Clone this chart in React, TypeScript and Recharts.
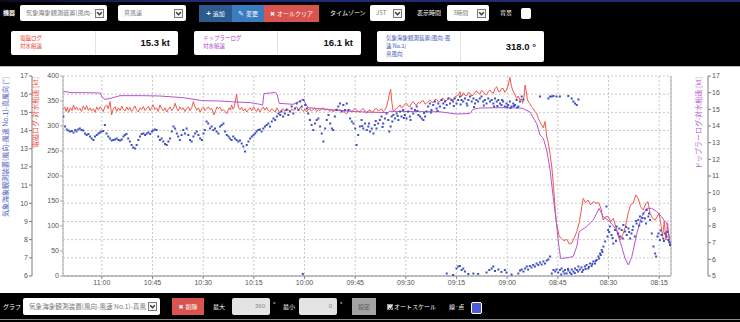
import React from 'react';
import { ComposedChart, Line, Scatter, XAxis, YAxis, CartesianGrid } from 'recharts';

// minutes after 08:00
const xTicks = [15, 30, 45, 60, 75, 90, 105, 120, 135, 150, 165, 180];
const redTicks = [6, 7, 8, 9, 10, 11, 12, 13, 14, 15, 16, 17];
const blueTicks = [0, 50, 100, 150, 200, 250, 300, 350, 400];
const purpleTicks = [5, 6, 7, 8, 9, 10, 11, 12, 13, 14, 15, 16, 17];

// 電磁ログ 対水船速 [kt]  [minute, value]
const redPoints: number[][] = [
  [191.5,15.17],[191.0,15.3],[190.6,15.05],[190.2,15.28],[189.8,15.0],[189.3,15.25],[188.8,15.1],[188.4,15.41],[187.9,15.15],[187.5,15.3],
  [187.0,15.12],[186.5,15.22],[186.0,15.05],[185.5,15.35],[185.0,15.15],[184.5,15.36],[184.0,15.1],[183.5,15.25],[183.0,15.08],[182.5,15.2],
  [182.0,15.0],[181.5,15.3],[181.0,15.12],[180.5,15.31],[180.0,15.15],[179.6,15.05],[179.1,15.3],[178.6,15.41],[178.1,15.2],[177.6,15.59],
  [177.1,14.86],[176.6,15.2],[176.1,15.31],[175.6,15.05],[175.1,15.25],[174.6,15.1],[174.1,15.35],[173.6,15.15],[173.1,15.08],[172.6,15.3],
  [172.2,15.12],[171.7,15.28],[171.2,15.05],[170.7,15.2],[170.2,15.35],[169.7,15.12],[169.2,15.02],[168.7,15.25],[168.2,15.15],[167.7,15.32],
  [167.2,15.1],[166.7,15.22],[166.2,15.33],[165.7,15.1],[165.2,15.28],[164.8,15.41],[164.3,15.15],[163.8,15.25],[163.3,15.05],[162.8,15.41],
  [162.3,15.2],[161.8,15.08],[161.3,15.25],[160.8,15.02],[160.3,15.18],[159.8,15.3],[159.3,15.1],[158.8,15.22],[158.3,15.5],[157.8,15.2],
  [157.4,15.08],[156.9,15.3],[156.4,15.15],[155.9,15.25],[155.4,15.05],[154.9,15.2],[154.4,15.3],[153.9,15.1],[153.4,15.25],[152.9,15.59],
  [152.4,15.3],[151.9,15.12],[151.4,15.25],[150.9,15.02],[150.4,15.2],[149.9,15.3],[149.5,15.1],[149.0,15.18],[148.5,15.3],[148.0,15.15],
  [147.5,15.22],[147.0,15.0],[146.8,14.86],[146.3,15.1],[145.9,15.3],[145.5,15.2],[145.0,15.28],[144.5,15.08],[144.0,15.15],[143.5,15.05],
  [143.0,14.92],[142.6,15.15],[142.3,15.25],[141.9,15.12],[141.6,15.41],[141.2,15.18],[140.9,15.25],[140.5,15.6],[140.1,16.01],[139.8,15.5],
  [139.5,15.25],[139.1,15.15],[138.6,15.28],[138.1,15.08],[137.6,15.2],[137.1,15.02],[136.6,15.15],[136.1,15.25],[135.6,15.1],[135.1,15.31],
  [134.6,15.15],[134.2,15.05],[133.7,15.22],[133.2,15.02],[132.7,15.18],[132.2,15.3],[131.7,15.12],[131.2,15.28],[130.7,15.1],[130.2,15.05],
  [129.7,15.2],[129.2,15.12],[128.7,15.02],[128.2,15.25],[127.7,15.1],[127.3,14.95],[126.8,15.15],[126.3,15.2],[125.8,15.05],[125.3,15.22],
  [124.8,15.15],[124.3,15.02],[123.8,15.18],[123.3,15.1],[122.8,15.22],[122.3,15.3],[121.8,15.12],[121.3,15.28],[120.8,15.15],[120.3,15.05],
  [119.9,15.2],[119.4,15.02],[118.9,15.15],[118.4,15.2],[117.9,15.08],[117.4,15.17],[116.9,15.25],[116.4,15.05],[115.9,15.15],[115.4,15.1],
  [114.9,15.22],[114.4,15.25],[113.9,15.1],[113.4,15.2],[112.9,15.12],[112.4,15.05],[111.9,15.18],[111.5,15.02],[111.0,15.15],[110.5,15.2],
  [110.0,15.08],[109.5,15.17],[109.0,15.05],[108.5,15.12],[108.0,14.98],[107.5,14.92],[107.0,15.1],[106.5,15.15],[106.0,15.05],[105.5,15.13],
  [105.0,15.22],[104.5,15.1],[104.0,15.05],[103.6,15.04],[103.1,15.15],[102.6,15.22],[102.1,15.05],[101.6,14.95],[101.1,15.1],[100.6,15.13],
  [100.1,15.0],[99.6,15.04],[99.2,15.18],[98.7,15.22],[98.2,15.08],[97.7,15.13],[97.2,15.2],[96.7,15.04],[96.2,15.15],[95.7,15.31],
  [94.9,15.96],[94.5,16.27],[94.1,15.5],[93.7,15.04],[93.2,15.15],[92.7,15.22],[92.2,15.3],[91.7,15.41],[91.3,15.25],[90.8,15.31],
  [90.3,15.45],[89.8,15.5],[89.3,15.35],[88.8,15.31],[88.3,15.5],[87.8,15.59],[87.3,15.45],[86.8,15.41],[86.3,15.55],[85.8,15.5],
  [85.3,15.62],[84.8,15.64],[84.3,15.45],[83.9,15.5],[83.4,15.6],[82.9,15.68],[82.4,15.58],[81.9,15.53],[81.4,15.7],[80.9,15.72],
  [80.4,15.6],[79.9,15.59],[79.4,15.75],[78.9,15.77],[78.4,15.65],[77.9,15.64],[77.4,15.8],[76.9,15.77],[76.5,15.7],[76.0,15.68],
  [75.5,15.85],[75.0,15.9],[74.5,15.95],[74.0,16.14],[73.5,15.86],[73.0,16.08],[72.5,15.95],[72.0,15.9],[71.5,16.1],[71.0,16.05],
  [70.5,15.9],[70.0,15.96],[69.5,16.1],[69.1,16.19],[68.6,16.05],[68.1,16.01],[67.6,16.2],[67.1,16.14],[66.6,16.0],[66.1,15.96],
  [65.6,16.15],[65.1,16.23],[64.6,16.1],[64.1,16.05],[63.6,16.3],[63.1,16.41],[62.6,16.15],[62.1,16.14],[61.7,16.3],[61.2,16.32],
  [60.7,16.1],[60.2,16.23],[59.7,16.5],[59.2,16.93],[58.8,16.5],[58.4,16.23],[57.7,15.96],[57.2,15.77],[56.7,15.9],[56.2,15.68],
  [55.8,15.75],[55.4,15.5],[55.0,15.9],[54.7,16.5],[54.4,16.2],[54.0,15.68],[53.4,15.5],[52.8,15.31],[52.3,15.22],[51.8,15.04],
  [51.3,14.95],[50.8,14.67],[50.3,14.49],[49.8,14.31],[49.3,14.15],[48.8,14.5],[48.3,13.7],[47.8,13.3],[47.3,12.7],[46.8,12.0],
  [46.3,11.0],[45.8,9.7],[45.4,8.9],[44.6,8.17],[43.9,8.07],[43.2,7.94],[42.4,8.02],[41.6,7.76],[40.9,7.8],[40.2,8.07],
  [39.4,8.44],[38.6,8.99],[37.9,9.81],[37.5,10.27],[36.8,10.03],[36.0,10.18],[35.3,9.91],[34.5,10.09],[33.7,10.0],[32.9,10.03],
  [32.1,9.63],[31.6,9.08],[30.9,9.26],[30.1,9.26],[29.4,8.99],[28.6,9.17],[27.8,8.71],[27.1,8.17],[26.6,7.98],[25.8,8.26],
  [25.0,8.71],[24.2,9.45],[23.5,9.91],[22.7,10.0],[21.9,10.46],[21.2,10.27],[20.5,9.81],[19.7,9.63],[18.9,10.0],[18.3,10.09],
  [17.7,9.45],[16.9,9.17],[16.2,9.08],[15.6,9.26],[15.0,9.45],[14.4,8.71],[14.0,8.17],[13.5,8.99],[13.0,7.98],[12.5,8.9],
  [12.0,7.8],[11.6,7.61],
];

// ドップラーログ 対水船速 [kt]
const purplePoints: number[][] = [
  [191.5,16.06],[190.3,16.05],[189.4,16.0],[185.0,16.0],[180.5,15.98],[179.8,15.7],[179.1,15.6],[177.6,15.65],[174.6,15.82],[168.0,15.82],
  [162.8,15.8],[156.0,15.7],[150.1,15.52],[145.0,15.5],[141.2,15.45],[136.0,15.4],[133.2,15.3],[132.4,15.25],[132.0,15.95],[130.0,15.98],
  [128.7,16.02],[128.1,15.9],[127.5,15.36],[123.4,15.3],[121.3,15.5],[120.5,15.62],[119.6,15.3],[118.9,15.1],[113.4,15.0],[108.0,14.9],
  [103.6,14.85],[95.3,14.8],[94.8,14.88],[79.9,14.85],[74.9,14.72],[71.0,14.75],[70.1,15.0],[68.1,15.08],[62.2,15.1],[56.2,15.08],
  [55.4,15.05],[53.3,14.85],[51.3,14.16],[50.3,13.46],[49.3,13.26],[48.3,12.56],[47.3,11.36],[46.4,9.76],[45.4,8.16],[44.9,7.16],
  [44.2,6.06],[43.4,6.06],[40.5,6.16],[39.4,6.76],[38.7,7.66],[36.5,7.96],[34.5,8.36],[32.8,9.06],[31.6,8.56],[29.6,8.26],
  [27.6,7.76],[26.1,6.76],[25.1,6.06],[24.1,5.66],[23.1,6.16],[21.6,7.56],[20.2,8.56],[18.7,9.06],[17.2,9.06],[15.7,8.86],
  [14.3,8.56],[13.3,8.26],[12.8,8.2],[11.8,7.16],
];

// 気象海象観測装置(風向-風速 No.1) 真風向 [°]
const bluePoints: number[][] = [
  [191.4,319],[190.9,299],[190.4,293],[189.9,291],[189.4,289],[188.9,290],[188.4,287],[187.9,292],[187.5,289],[187.0,293],
  [186.5,295],[186.0,292],[185.5,291],[185.0,285],[184.5,282],[184.0,284],[183.5,279],[183.0,275],[182.5,272],[182.0,279],
  [181.5,282],[181.0,285],[180.6,287],[180.1,289],[179.6,290],[179.1,302],[178.6,285],[178.1,279],[177.6,275],[177.1,271],
  [176.6,272],[176.1,273],[175.6,275],[175.1,272],[174.6,271],[174.1,273],[173.6,279],[173.2,282],[172.7,284],[172.2,275],
  [171.7,269],[171.2,262],[170.7,257],[170.2,255],[169.7,262],[169.2,272],[168.7,279],[168.2,284],[167.7,285],[167.2,282],
  [166.7,285],[166.2,287],[165.7,284],[165.2,289],[164.8,291],[164.3,293],[163.8,292],[163.3,279],[162.8,272],[162.3,275],
  [161.8,269],[161.3,264],[160.8,262],[160.3,269],[159.8,275],[159.3,289],[158.8,299],[158.3,295],[157.8,285],[157.4,279],
  [156.9,272],[156.4,282],[155.9,292],[155.4,285],[154.9,295],[154.4,282],[153.9,272],[153.4,269],[152.9,279],[152.4,285],
  [151.9,289],[151.4,282],[150.9,275],[150.4,272],[149.9,285],[149.5,292],[149.0,309],[148.5,305],[148.0,295],[147.5,299],
  [147.0,292],[146.5,295],[146.0,289],[145.5,285],[145.0,299],[144.5,302],[144.0,305],[143.5,289],[143.0,282],[142.5,279],
  [142.1,275],[141.6,272],[141.1,279],[140.6,275],[140.1,272],[139.6,269],[139.1,271],[138.6,265],[138.1,259],[137.6,249],
  [137.1,262],[136.6,269],[136.1,275],[135.6,279],[135.1,282],[134.6,285],[134.2,289],[133.7,292],[133.2,293],[132.7,289],
  [132.2,295],[131.7,299],[131.2,302],[130.7,305],[130.2,299],[129.7,309],[129.2,315],[128.7,312],[128.2,319],[127.7,325],
  [127.2,322],[126.8,329],[126.3,319],[125.8,325],[125.3,332],[124.8,322],[124.3,329],[123.8,339],[123.3,325],[122.8,335],
  [122.3,345],[121.8,332],[121.3,349],[120.8,339],[120.3,352],[119.8,342],[119.3,335],[118.9,325],[118.4,312],[117.9,302],
  [117.4,292],[116.9,305],[116.4,312],[115.9,315],[115.4,299],[114.9,285],[114.4,269],[113.9,295],[113.4,312],[112.9,322],
  [112.4,305],[111.9,295],[111.5,292],[111.0,319],[110.5,332],[110.0,339],[109.5,345],[109.0,329],[108.5,342],[108.0,332],
  [107.5,345],[107.0,332],[106.5,315],[106.0,309],[105.5,305],[105.0,295],[104.6,262],[104.1,282],[103.6,299],
  [103.1,312],[102.6,295],[102.1,305],[101.6,292],[101.1,299],[100.6,289],[100.1,295],[99.6,285],[99.2,302],[98.7,295],
  [98.2,305],[97.7,312],[97.2,319],[96.7,305],[96.2,315],[95.7,325],[95.2,312],[94.9,289],[94.5,299],[94.2,319],
  [93.7,322],[93.2,315],[92.7,325],[92.2,312],[91.7,329],[91.3,319],[90.8,332],[90.3,322],[89.8,315],[89.3,329],
  [88.8,319],[88.3,335],[87.8,325],[87.3,332],[86.8,339],[86.3,322],[85.8,319],[85.3,315],[84.8,312],[84.3,319],
  [83.9,329],[83.4,339],[82.9,345],[82.4,332],[81.9,342],[81.4,349],[80.9,335],[80.4,345],[79.9,339],[79.4,352],
  [78.9,345],[78.4,349],[77.9,342],[77.4,355],[76.9,345],[76.5,352],[76.0,349],[75.5,355],[75.0,345],[74.5,352],
  [74.0,359],[73.5,352],[73.0,349],[72.5,355],[72.0,345],[71.5,352],[71.0,359],[70.5,349],[70.0,355],[69.5,345],
  [69.1,352],[68.6,349],[68.1,355],[67.6,359],[67.1,349],[66.6,352],[66.1,345],[65.6,355],[65.1,349],[64.6,352],
  [64.1,345],[63.6,355],[63.1,349],[62.6,352],[62.1,345],[61.7,342],[61.2,349],[60.7,339],[60.2,345],[59.7,342],
  [59.2,349],[58.7,339],[58.2,345],[57.7,342],[57.2,352],[56.7,339],[56.2,349],[55.7,359],[55.2,353],
  [60.0,338],[59.0,336],[58.0,340],[57.0,337],[62.9,340],[61.5,352],[63.9,339],[66.9,341],[69.8,338],[71.8,341],
  [73.8,343],[75.8,340],[78.6,336],[80.6,330],[82.6,327],[84.6,326],[86.6,330],[88.6,312],[90.6,316],[92.4,320],
  [94.0,309],[96.9,298],[98.9,310],[100.9,305],[102.9,300],
  [50.3,359],[47.8,355],[47.3,359],[46.8,359],[46.3,360],[45.4,359],[44.4,359],[41.9,360],[40.9,355],[40.4,349],
  [39.9,345],[39.4,342],[38.9,353],
  [120.5,4],[77.9,5],[76.0,2],[75.0,15],[74.5,19],[74.0,20],[73.5,12],[73.0,15],[72.5,9],[71.5,4],[70.0,5],
  [68.6,4],[66.1,7],[65.3,12],[64.6,15],[64.1,19],[63.6,10],[62.6,13],[61.7,8],[60.7,12],[60.2,7],
  [58.7,3],[56.7,5],[56.2,11],[55.7,13],[55.2,9],[54.7,15],[54.2,19],[53.8,13],[53.3,20],[52.8,17],
  [52.3,22],[51.8,19],[51.3,25],[50.8,22],[50.3,27],[49.8,23],[49.3,29],[48.8,25],[48.3,31],[47.8,33],
  [47.3,39],[46.8,5],[46.3,12],[45.8,9],[45.4,13],[44.9,7],[44.4,12],[43.9,15],[43.4,9],[42.9,12],
  [42.4,5],[41.9,11],[41.4,7],[40.9,13],[40.4,9],[39.9,15],[39.4,12],[38.9,19],[38.5,13],[38.0,17],
  [37.5,12],[37.0,19],[36.5,22],[36.0,15],[35.5,25],[35.0,20],[34.5,29],[34.0,25],[33.5,32],[33.0,39],
  [32.5,45],[32.0,52],[31.5,59],[31.0,69],[30.6,139],[30.3,79],[30.1,92],[29.6,99],[29.1,82],[28.6,65],
  [28.1,92],[27.6,99],[27.1,85],[26.6,79],[26.1,92],[25.6,102],[25.1,89],[24.6,82],[24.1,95],[23.6,75],
  [23.2,85],[22.7,99],[22.2,79],[21.7,105],[21.2,112],[20.7,119],[20.2,109],[19.7,125],[19.2,115],[18.7,132],
  [18.2,119],[17.7,112],[17.2,85],[16.7,59],[16.2,45],[15.9,39],[15.5,79],[15.2,85],[14.8,72],[14.3,82],
  [13.8,75],[13.3,85],[12.8,79],[12.3,72],[11.8,62],[11.6,65],
  [44.0,3],[43.0,5],[42.0,14],[41.0,4],[40.0,6],[39.0,9],[37.8,8],[36.8,14],[35.8,18],[34.8,24],
  [33.8,30],[32.8,35],[32.3,42],[31.8,48],[29.8,88],[28.8,76],[27.8,70],[26.8,95],[25.8,75],[24.8,98],
  [23.9,88],[22.9,92],[21.9,110],[20.9,101],[19.9,116],[18.9,105],[18.0,125],[14.6,91],[13.6,70],[12.6,88],
  [12.0,68],
];

const redData = redPoints.map(([t, v]) => ({ t, v }));
const purpleData = purplePoints.map(([t, v]) => ({ t, v }));
const blueData = bluePoints.map(([t, v]) => ({ t, v }));

const JP = "'Noto Sans CJK JP', 'Liberation Sans', 'DejaVu Sans', sans-serif";
const LAT = "'Liberation Sans', 'Noto Sans CJK JP', sans-serif";

const fmtTime = (t: number) => {
  const tot = 8 * 60 + Math.round(t);
  const h = Math.floor(tot / 60);
  const m = tot % 60;
  return `${String(h).padStart(2, '0')}:${String(m).padStart(2, '0')}`;
};

const abs = (x: number, y: number, extra: React.CSSProperties = {}): React.CSSProperties => ({
  position: 'absolute', left: x, top: y, ...extra,
});

function T({ x, y, size = 6, color = '#fff', weight = 400, children, font = JP }: any) {
  return (
    <div style={abs(x, y - size / 2, { fontSize: size, lineHeight: `${size}px`, color, fontWeight: weight, fontFamily: font, whiteSpace: 'nowrap' })}>
      {children}
    </div>
  );
}

function Arrow({ x, y }: any) {
  return (
    <svg style={abs(x, y)} width={9} height={9}>
      <rect x={0.5} y={0.5} width={8} height={8} fill="#f4f4f4" stroke="#7a7a7a" />
      <polyline points="2.2,3.3 4.5,5.8 6.8,3.3" fill="none" stroke="#333" strokeWidth={1.3} />
    </svg>
  );
}

function Select({ x, y, w, h, text, size = 6 }: any) {
  return (
    <div style={abs(x, y, { width: w, height: h, background: '#fff', borderRadius: 2 })}>
      <div style={abs(6, h / 2 - size / 2, { fontSize: size, lineHeight: `${size}px`, color: '#7a7a7a', fontFamily: JP, whiteSpace: 'nowrap' })}>{text}</div>
      <Arrow x={w - 12} y={h / 2 - 4.5} />
    </div>
  );
}

function Btn({ x, y, w, h, bg, children, color = '#fff' }: any) {
  return (
    <div style={abs(x, y, { width: w, height: h, background: bg, color, fontSize: 6, fontFamily: JP, display: 'flex', alignItems: 'center', justifyContent: 'center', whiteSpace: 'nowrap' })}>
      {children}
    </div>
  );
}

function Panel({ x, y, w, h, div, lines, color, value }: any) {
  return (
    <div style={abs(x, y, { width: w, height: h, background: '#fff', borderRadius: 2 })}>
      <div style={abs(div, 0, { width: 1, height: h, background: '#e2e2e2' })} />
      {lines.map((l: string, i: number) => (
        <div key={i} style={abs(9, 4 + i * 8, { fontSize: 5.5, lineHeight: '7px', color, fontFamily: JP, whiteSpace: 'nowrap' })}>{l}</div>
      ))}
      <div style={abs(0, h / 2 - 6, { width: w - 8, textAlign: 'right', fontSize: 9.5, lineHeight: '12px', fontWeight: 700, color: '#111', fontFamily: LAT })}>{value}</div>
    </div>
  );
}

const tickStyle = { fontSize: 7, fill: '#555', fontFamily: LAT };

export default function App() {
  return (
    <div style={{ position: 'fixed', left: 0, top: 0, width: 740, height: 322, background: '#000', overflow: 'hidden', fontFamily: JP }}>
      <div style={abs(0, 0, { width: 740, height: 2, background: 'linear-gradient(90deg, #0a0a20 0%, #1c2a78 25%, #1c2a78 100%)' })} />
      {/* top controls */}
      <T x={3} y={13} weight={700}>機器</T>
      <Select x={20} y={5} w={87} h={16} text="気象海象観測装置(風向-" size={6.2} />
      <Select x={118} y={5} w={68} h={16} text="真風速" />
      <Btn x={199} y={5} w={33} h={17} bg="#2b5b8f"><b style={{ fontSize: 8, marginRight: 2, fontFamily: LAT }}>+</b>追加</Btn>
      <Btn x={232} y={5} w={32} h={17} bg="#3a7cc2"><span style={{ fontSize: 7, marginRight: 2, fontFamily: "'DejaVu Sans'" }}>✎</span>変更</Btn>
      <Btn x={264} y={5} w={55} h={17} bg="#d9534f"><span style={{ fontSize: 6, marginRight: 2, fontFamily: "'DejaVu Sans'" }}>✖</span>オールクリア</Btn>
      <T x={330} y={13}>タイムゾーン</T>
      <Select x={370} y={5} w={35} h={16} text="JST" />
      <T x={417} y={13}>表示時間</T>
      <Select x={447} y={5} w={42} h={16} text="3時間" />
      <T x={500} y={13}>背景</T>
      <div style={abs(521, 8, { width: 10, height: 11, background: '#fff', borderRadius: 2 })} />

      {/* value panels */}
      <Panel x={11} y={31} w={167} h={24} div={84} lines={['電磁ログ', '対水船速']} color="#f2402a" value="15.3 kt" />
      <Panel x={194} y={31} w={167} h={24} div={83} lines={['ドップラーログ', '対水船速']} color="#b13fcf" value="16.1 kt" />
      <Panel x={377} y={31} w={167} h={31} div={83} lines={['気象海象観測装置(風向-風', '速 No.1)', '真風向']} color="#3c55b4" value="318.0 °" />

      {/* chart area */}
      <div style={abs(0, 66, { width: 740, height: 1, background: '#bdbdbd' })} />
      <div style={abs(0, 67, { width: 740, height: 226, background: '#fff' })}>
        <ComposedChart width={740} height={226} margin={{ top: 9, right: 0, bottom: 0, left: 0 }}>
          <CartesianGrid yAxisId="red" stroke="#c9c9c9" strokeDasharray="2 2" />
          <XAxis type="number" dataKey="t" domain={[11.5, 191.5]} reversed allowDataOverflow ticks={xTicks} interval={0}
            tickFormatter={fmtTime} height={17} tick={tickStyle} tickSize={3} tickMargin={1}
            axisLine={{ stroke: '#8a8a8a' }} tickLine={{ stroke: '#8a8a8a' }} />
          <YAxis yAxisId="red" orientation="left" width={32} domain={[6, 17]} ticks={redTicks} interval={0} allowDataOverflow
            tick={tickStyle} tickSize={3} tickMargin={1} axisLine={{ stroke: '#7d7d7d' }} tickLine={{ stroke: '#7d7d7d' }} />
          <YAxis yAxisId="blue" orientation="left" width={31} domain={[0, 400]} ticks={blueTicks} interval={0} allowDataOverflow
            tick={tickStyle} tickSize={3} tickMargin={1} axisLine={{ stroke: '#a8a8a8' }} tickLine={{ stroke: '#a8a8a8' }} />
          <YAxis yAxisId="purple" orientation="right" width={32} domain={[5, 17]} ticks={purpleTicks} interval={0} allowDataOverflow
            tick={tickStyle} tickSize={3} tickMargin={1} axisLine={{ stroke: '#7d7d7d' }} tickLine={{ stroke: '#7d7d7d' }} />
          <YAxis yAxisId="extra" orientation="right" width={37} domain={[0, 1]} ticks={[0, 1]} allowDataOverflow
            tick={false} tickSize={3} axisLine={{ stroke: '#a8a8a8' }} tickLine={{ stroke: '#a8a8a8' }} />
          <Line yAxisId="red" data={redData} dataKey="v" type="linear" stroke="#f3574b" strokeWidth={1} dot={false} isAnimationActive={false} />
          <Line yAxisId="purple" data={purpleData} dataKey="v" type="linear" stroke="#b455d2" strokeWidth={1} dot={false} isAnimationActive={false} />
          <Scatter yAxisId="blue" data={blueData} dataKey="v" fill="#3f50c4" isAnimationActive={false}
            shape={(p: any) => <rect x={p.cx - 1} y={p.cy - 1} width={2} height={2} fill="#3f50c4" />} />
        </ComposedChart>
        <svg style={abs(0, 0, { pointerEvents: 'none' })} width={740} height={226}>
          <text x={5} y={10} transform="rotate(-90 5 10)" textAnchor="end" dominantBaseline="central" fontSize={7} fill="#5262c2" fontFamily={JP}>気象海象観測装置(風向-風速 No.1)-真風向 [°]</text>
          <text x={35} y={10} transform="rotate(-90 35 10)" textAnchor="end" dominantBaseline="central" fontSize={7} fill="#f0533f" fontFamily={JP}>電磁ログ-対水船速 [kt]</text>
          <text x={698} y={10} transform="rotate(-90 698 10)" textAnchor="end" dominantBaseline="central" fontSize={7} fill="#b559d0" fontFamily={JP}>ドップラーログ-対水船速 [kt]</text>
        </svg>
      </div>

      {/* bottom bar */}
      <T x={3} y={307}>グラフ</T>
      <Select x={23} y={298} w={137} h={17} text="気象海象観測装置(風向-風速 No.1)-真風" size={6.6} />
      <Btn x={172} y={298} w={32} h={17} bg="#d9534f"><span style={{ fontSize: 6, marginRight: 2, fontFamily: "'DejaVu Sans'" }}>✖</span>削除</Btn>
      <T x={213} y={307}>最大</T>
      <div style={abs(232, 298, { width: 38, height: 17, background: '#e4e4e4', borderRadius: 2, fontSize: 6, lineHeight: '17px', color: '#8a8a8a', textAlign: 'right', boxSizing: 'border-box', paddingRight: 5, fontFamily: LAT })}>360</div>
      <T x={273} y={304} size={6} font={LAT}>°</T>
      <T x={283} y={307}>最小</T>
      <div style={abs(299, 298, { width: 38, height: 17, background: '#e4e4e4', borderRadius: 2, fontSize: 6, lineHeight: '17px', color: '#8a8a8a', textAlign: 'right', boxSizing: 'border-box', paddingRight: 5, fontFamily: LAT })}>0</div>
      <T x={340} y={304} size={6} font={LAT}>°</T>
      <Btn x={352} y={298} w={24} h={17} bg="#a3a3a3" color="#5a5a5a">設定</Btn>
      <div style={abs(387, 304, { width: 6, height: 6, background: '#ddd', border: '0.5px solid #999', boxSizing: 'border-box' })}>
        <svg width={6} height={6} style={{ display: 'block' }}><polyline points="1,3 2.5,4.6 5,1.2" fill="none" stroke="#222" strokeWidth={1} /></svg>
      </div>
      <T x={394} y={307}>オートスケール</T>
      <T x={449} y={307}>線·点</T>
      <div style={abs(471, 302, { width: 11, height: 12, background: '#4b5cd4', border: '1px solid #fff', borderRadius: 2, boxSizing: 'border-box' })} />
      <div style={abs(0, 319, { width: 740, height: 1, background: '#8a8a8a' })} />
    </div>
  );
}
